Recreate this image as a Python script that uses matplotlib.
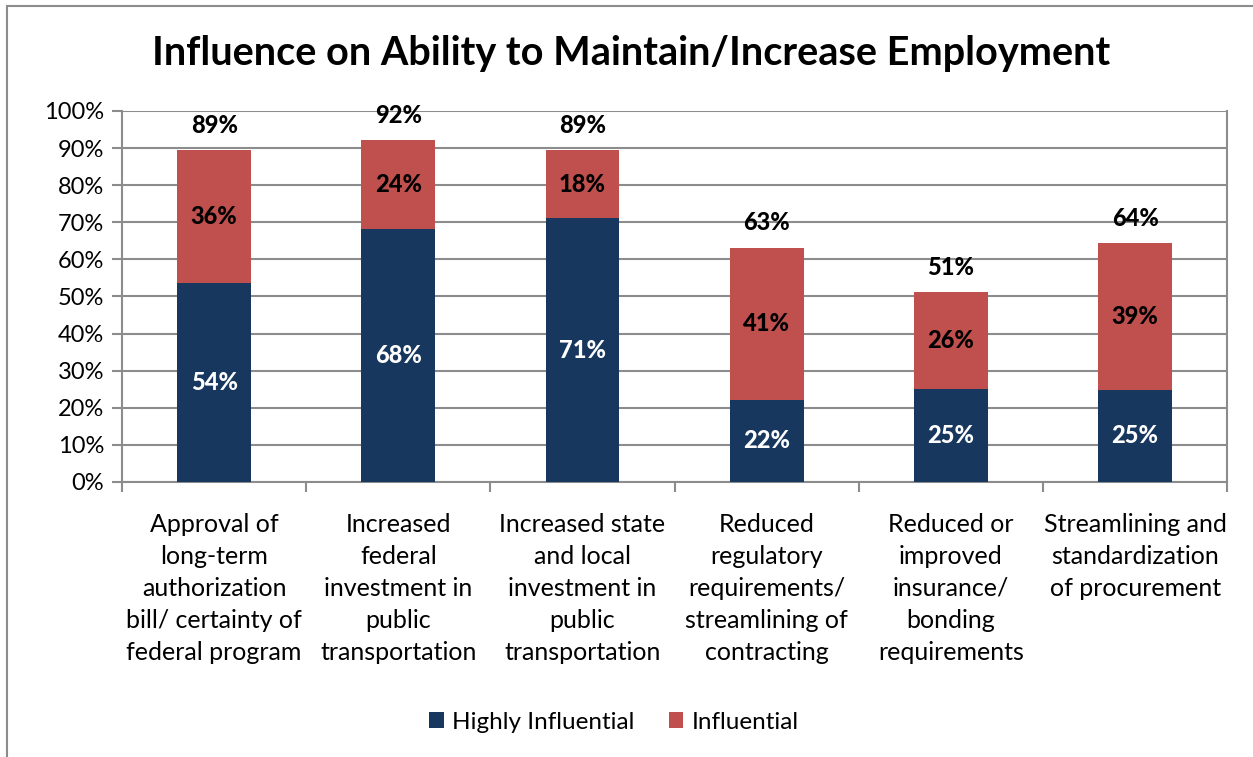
import matplotlib.pyplot as plt
from matplotlib.patches import Rectangle
import numpy as np

plt.rcParams['font.family'] = ['Lato', 'DejaVu Sans']

categories = [
    "Approval of\nlong-term\nauthorization\nbill/ certainty of\nfederal program",
    "Increased\nfederal\ninvestment in\npublic\ntransportation",
    "Increased state\nand local\ninvestment in\npublic\ntransportation",
    "Reduced\nregulatory\nrequirements/\nstreamlining of\ncontracting",
    "Reduced or\nimproved\ninsurance/\nbonding\nrequirements",
    "Streamlining and\nstandardization\nof procurement",
]
highly = [53.7, 68.2, 71.1, 22.1, 25.1, 24.9]
influential = [35.7, 23.9, 18.3, 41.0, 26.1, 39.4]

navy = "#17375E"
red = "#C0504D"
grid_col = "#8C8C8C"

fig = plt.figure(figsize=(12.53, 7.57), dpi=100)
ax = fig.add_axes([0.0974, 0.3633, 0.8820, 0.4901])

# outer chart frame
fig.patches.append(Rectangle((7 / 1253, -0.05), 1.1, 1 - 6 / 757 + 0.05,
                             transform=fig.transFigure, fill=False,
                             edgecolor="#8C8C8C", linewidth=1.5))

x = np.arange(len(categories))
w = 0.40
b1 = ax.bar(x, highly, w, color=navy, label="Highly Influential", zorder=3)
b2 = ax.bar(x, influential, w, bottom=highly, color=red, label="Influential", zorder=3)

for i in range(len(x)):
    ax.text(x[i], highly[i] / 2, f"{highly[i]:.0f}%", ha="center", va="center",
            color="white", fontsize=17, fontweight="black", zorder=4)
    ax.text(x[i], highly[i] + influential[i] / 2, f"{influential[i]:.0f}%",
            ha="center", va="center", color="black", fontsize=17,
            fontweight="black", zorder=4)
    total = highly[i] + influential[i]
    ax.annotate(f"{total:.0f}%", (x[i], total), xytext=(0, 18),
                textcoords="offset points", ha="center", va="center",
                fontsize=17, fontweight="black")

ax.set_xlim(-0.5, len(categories) - 0.5)
ax.set_ylim(0, 100)
ax.set_yticks(np.arange(0, 101, 10))
ax.set_yticklabels([f"{v}%" for v in range(0, 101, 10)], fontsize=17)
ax.yaxis.grid(True, color=grid_col, linewidth=1.5, zorder=0)

ax.set_xticks(x)
ax.set_xticklabels(categories, fontsize=18, linespacing=1.48)
ax.tick_params(axis="x", length=0, pad=22)
ax.set_xticks(np.arange(-0.5, len(categories), 1), minor=True)
ax.tick_params(axis="x", which="minor", length=7, width=1.5, color=grid_col)
ax.tick_params(axis="y", length=7, width=1.5, color=grid_col, pad=6)

for s in ["left", "right", "bottom"]:
    ax.spines[s].set_color(grid_col)
    ax.spines[s].set_linewidth(1.5)
ax.spines["top"].set_visible(False)

fig.text(0.504, 0.929, "Influence on Ability to Maintain/Increase Employment",
         ha="center", va="center", fontsize=28.5, fontweight="bold")

fig.legend(handles=[b1, b2], loc="center", bbox_to_anchor=(0.49, 0.046),
           ncol=2, frameon=False, fontsize=17.5, handlelength=0.6,
           handleheight=0.6, handletextpad=0.35, columnspacing=1.4)

fig.savefig("out.png", dpi=100)
